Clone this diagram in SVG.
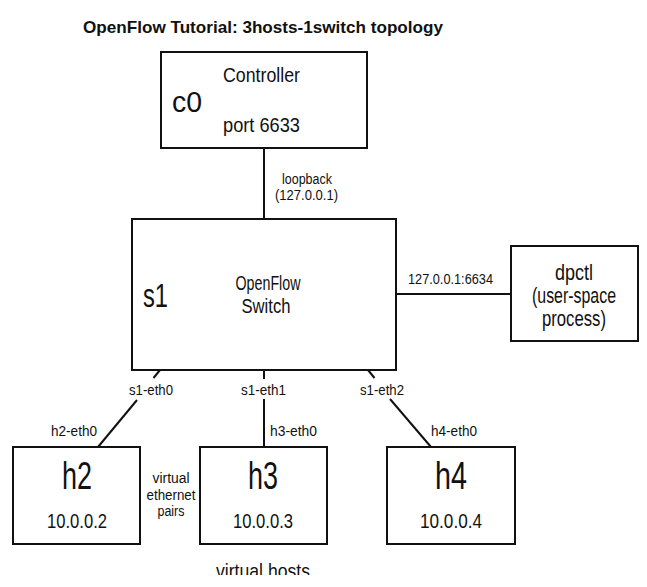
<svg xmlns="http://www.w3.org/2000/svg" width="647" height="587" viewBox="0 0 647 587">
  <defs>
    <style>
      text { font-family: "Liberation Sans Narrow", "Liberation Sans", sans-serif; fill: #111; }
      .box { fill: #fff; stroke: #111; stroke-width: 2; }
      .conn line { stroke: #111; stroke-width: 2; }
      .title { font-weight: bold; font-size: 17px; }
      .lbl { font-size: 15.5px; }
      .mid { font-size: 19.5px; }
      .big { font-size: 29px; }
      .host { font-size: 39px; }
      .ip { font-size: 21px; }
    </style>
    <clipPath id="cut"><rect x="0" y="0" width="647" height="575"/></clipPath>
  </defs>
  <rect width="647" height="587" fill="#fff"/>

  <text class="title" x="83" y="33" textLength="360" lengthAdjust="spacingAndGlyphs">OpenFlow Tutorial: 3hosts-1switch topology</text>

  <g class="conn">
    <line x1="264" y1="149" x2="264" y2="219"/>
    <line x1="396" y1="294" x2="511" y2="294"/>
    <line x1="160" y1="370" x2="153.5" y2="378"/>
    <line x1="137" y1="400" x2="98" y2="447"/>
    <line x1="264" y1="370" x2="264" y2="379"/>
    <line x1="264" y1="399" x2="264" y2="447"/>
    <line x1="368" y1="370" x2="374.5" y2="378"/>
    <line x1="390" y1="399" x2="431" y2="447"/>
  </g>

  <g class="labels">
    <text class="lbl" x="282" y="184" textLength="50" lengthAdjust="spacingAndGlyphs">loopback</text>
    <text class="lbl" x="275" y="200" textLength="63" lengthAdjust="spacingAndGlyphs">(127.0.0.1)</text>
    <text class="lbl" x="408" y="284" textLength="85" lengthAdjust="spacingAndGlyphs">127.0.0.1:6634</text>
    <text class="lbl" x="129" y="395" textLength="44" lengthAdjust="spacingAndGlyphs">s1-eth0</text>
    <text class="lbl" x="241" y="395" textLength="45" lengthAdjust="spacingAndGlyphs">s1-eth1</text>
    <text class="lbl" x="360" y="395" textLength="44" lengthAdjust="spacingAndGlyphs">s1-eth2</text>
    <text class="lbl" x="51" y="436" textLength="46" lengthAdjust="spacingAndGlyphs">h2-eth0</text>
    <text class="lbl" x="270" y="436" textLength="47" lengthAdjust="spacingAndGlyphs">h3-eth0</text>
    <text class="lbl" x="431" y="436" textLength="46" lengthAdjust="spacingAndGlyphs">h4-eth0</text>
    <text class="lbl" x="171" y="483" text-anchor="middle" textLength="37" lengthAdjust="spacingAndGlyphs">virtual</text>
    <text class="lbl" x="171" y="500" text-anchor="middle" textLength="49" lengthAdjust="spacingAndGlyphs">ethernet</text>
    <text class="lbl" x="171" y="516" text-anchor="middle" textLength="27" lengthAdjust="spacingAndGlyphs">pairs</text>
    <text x="263" y="578" text-anchor="middle" font-size="21" textLength="94" lengthAdjust="spacingAndGlyphs" clip-path="url(#cut)">virtual hosts</text>
  </g>

  <g id="c0">
    <rect class="box" x="161" y="52" width="206" height="96"/>
    <text class="big" x="172" y="112" textLength="30" lengthAdjust="spacingAndGlyphs">c0</text>
    <text class="mid" x="223" y="82" textLength="77" lengthAdjust="spacingAndGlyphs">Controller</text>
    <text class="mid" x="223" y="132" textLength="77" lengthAdjust="spacingAndGlyphs">port 6633</text>
  </g>

  <g id="s1">
    <rect class="box" x="132" y="219" width="264" height="151"/>
    <text x="143" y="307" font-size="33" textLength="25" lengthAdjust="spacingAndGlyphs">s1</text>
    <text x="268" y="290" font-size="20.5" text-anchor="middle" textLength="65" lengthAdjust="spacingAndGlyphs">OpenFlow</text>
    <text x="266" y="313" font-size="20.5" text-anchor="middle" textLength="49" lengthAdjust="spacingAndGlyphs">Switch</text>
  </g>

  <g id="dpctl">
    <rect class="box" x="511" y="246" width="127" height="95"/>
    <text x="574" y="280" font-size="22" text-anchor="middle" textLength="38" lengthAdjust="spacingAndGlyphs">dpctl</text>
    <text x="574" y="303" font-size="22" text-anchor="middle" textLength="84" lengthAdjust="spacingAndGlyphs">(user-space</text>
    <text x="574" y="326" font-size="22" text-anchor="middle" textLength="64" lengthAdjust="spacingAndGlyphs">process)</text>
  </g>

  <g id="h2">
    <rect class="box" x="13" y="447" width="127" height="97"/>
    <text class="host" x="77" y="489" text-anchor="middle" textLength="30" lengthAdjust="spacingAndGlyphs">h2</text>
    <text class="ip" x="77" y="528" text-anchor="middle" textLength="60" lengthAdjust="spacingAndGlyphs">10.0.0.2</text>
  </g>

  <g id="h3">
    <rect class="box" x="200" y="447" width="127" height="97"/>
    <text class="host" x="263" y="489" text-anchor="middle" textLength="30" lengthAdjust="spacingAndGlyphs">h3</text>
    <text class="ip" x="263" y="528" text-anchor="middle" textLength="60" lengthAdjust="spacingAndGlyphs">10.0.0.3</text>
  </g>

  <g id="h4">
    <rect class="box" x="387" y="447" width="128" height="97"/>
    <text class="host" x="451" y="489" text-anchor="middle" textLength="32" lengthAdjust="spacingAndGlyphs">h4</text>
    <text class="ip" x="451" y="528" text-anchor="middle" textLength="62" lengthAdjust="spacingAndGlyphs">10.0.0.4</text>
  </g>
</svg>
